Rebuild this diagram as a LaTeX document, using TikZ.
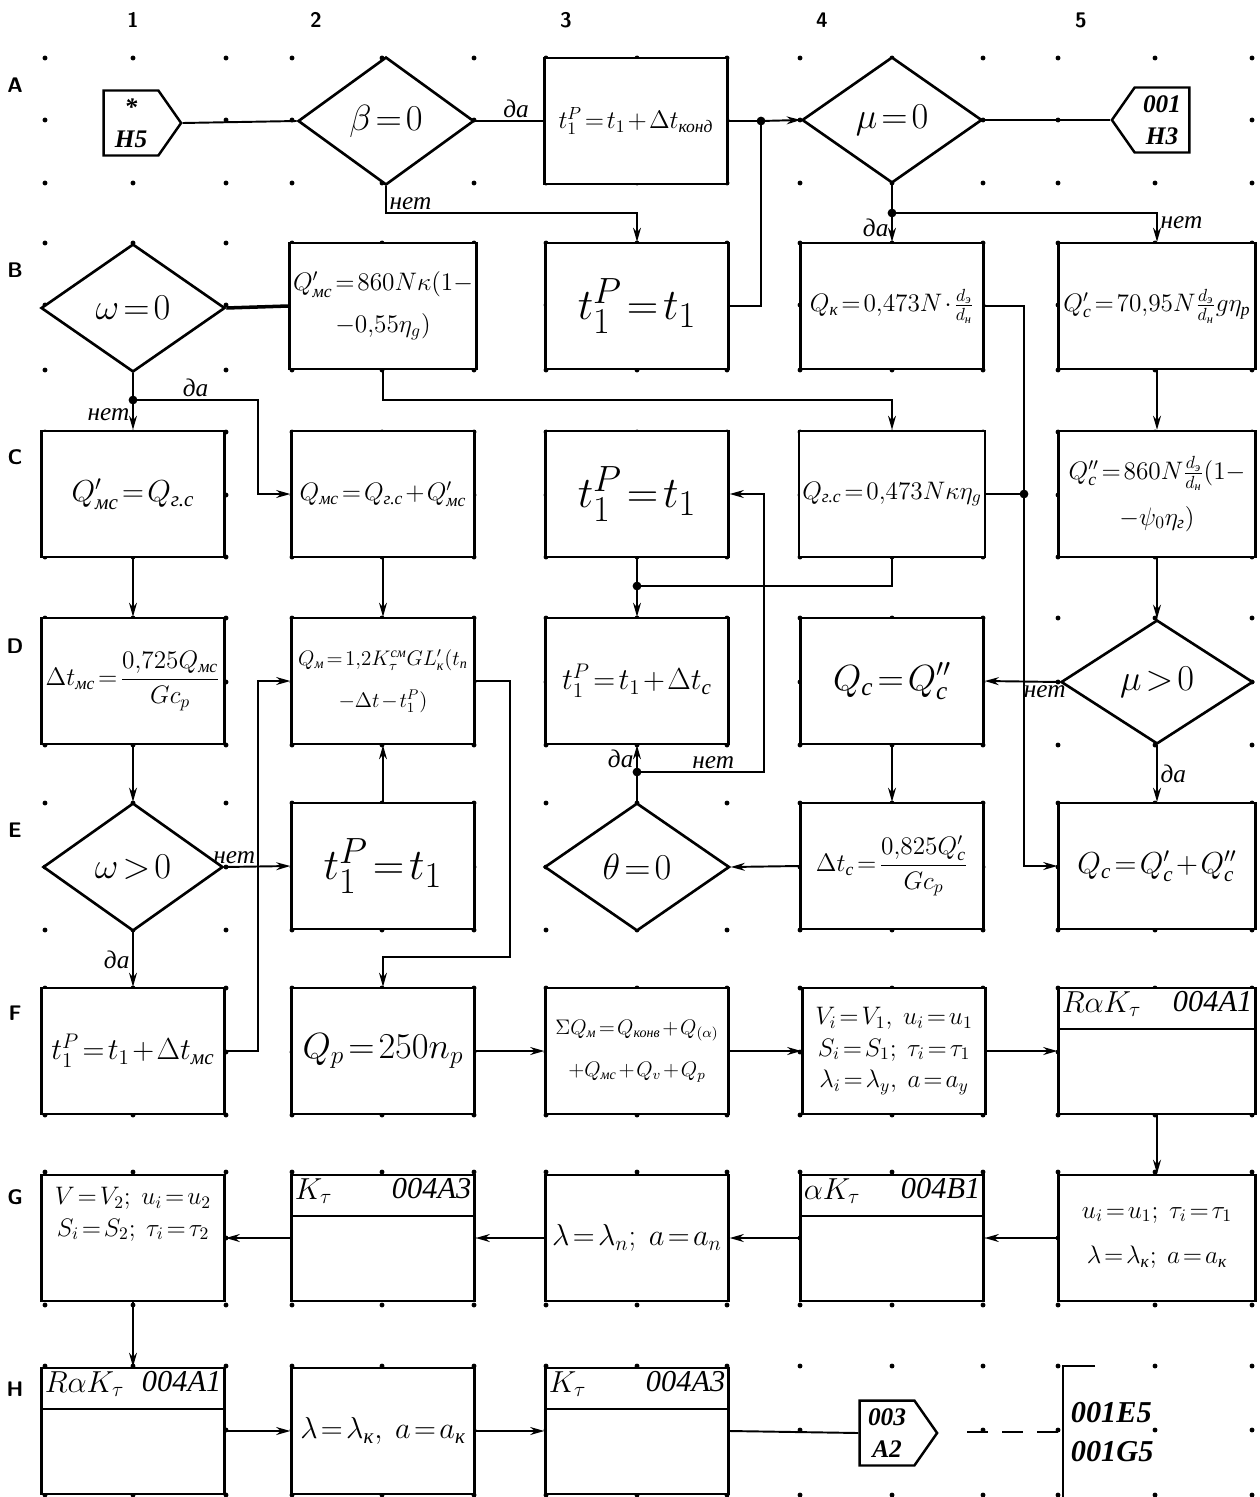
\documentclass[tikz,border=0pt]{standalone}
\usepackage{fontspec}
\setmainfont{Liberation Serif}
\usepackage{amsmath}
\usetikzlibrary{shapes.geometric,shapes.symbols,arrows.meta}
\newcommand{\ru}[1]{\text{\itshape #1}}
\thickmuskip=2mu plus 1mu
\medmuskip=1.5mu plus 1mu

\begin{document}
\begin{tikzpicture}[x=0.02cm,y=-0.02cm,line width=1.1pt,
    >={Stealth[length=8pt,width=4.5pt]},
    blk/.style={draw,fill=white,line width=1.4pt,minimum width=3.66cm,minimum height=2.52cm,
        inner sep=2pt,align=center,font=\Large},
    blkw/.style={blk,minimum width=3.94cm},
    cond/.style={diamond,draw,fill=white,line width=1.5pt,shape aspect=1.4,inner sep=0pt,
        minimum width=3.6cm,minimum height=2.56cm,font=\huge},
    conn/.style={signal,draw,fill=white,line width=1.4pt,signal pointer angle=110,
        minimum width=1.55cm,minimum height=1.3cm,inner sep=0.5pt,align=center,
        font=\Large\bfseries\itshape},
    lbl/.style={font=\Large\itshape,inner sep=1.5pt},
    hdr/.style={font=\LARGE\itshape,inner sep=2pt},
    gridlbl/.style={font=\large\bfseries\sffamily},
    jdot/.style={circle,fill,inner sep=0pt,minimum size=5pt}]
    \useasboundingbox (0,0) rectangle (1260,1497);
    % sheet grid
    \foreach \x in {45,133,226,292,382,474,546,637,727,800,892,983,1058,1155,1252}
        \foreach \y in {58,120,183,243,305,370,432,495,557,618,682,745,803,867,930,988,1052,1115,1172,1238,1305,1366,1430,1495}
            \fill (\x,\y) circle (1.4pt);
    \foreach \t/\x in {1/133,2/316,3/566,4/822,5/1081}
        \node[gridlbl] (col\t) at (\x,20) {\t};
    \foreach \t/\y in {A/85,B/270,C/457,D/646,E/830,F/1013,G/1197,H/1389}
        \node[gridlbl] (row\t) at (15,\y) {\t};

    % row A
    \node[conn,signal to=east] (A1) at (131,123) {*\\H5};
    \node[cond,minimum width=3.52cm] (A2) at (386,121) {$\beta=0$};
    \node[blk] (A3) at (636,121) {$t_1^{P}=t_1+\Delta t_{\ru{конд}}$};
    \node[cond,minimum height=2.52cm] (A4) at (892,120) {$\mu=0$};
    \node[conn,signal to=west] (A5) at (1162,120) {001\\H3};
    % row B
    \node[cond,minimum width=3.68cm] (B1) at (133,308) {$\omega=0$};
    \node[blk] (B2) at (383,306) {$Q'_{\ru{мс}}=860N\kappa(1-$\\[6pt]$-0{,}55\eta_g)$};
    \node[blk,font=\Huge] (B3) at (637,306) {$t_1^{P}=t_1$};
    \node[blk] (B4) at (892,306) {$Q_{\ru{к}}=0{,}473N\cdot\frac{d_{\ru{э}}}{d_{\ru{н}}}$};
    \node[blkw] (B5) at (1157,306) {$Q'_{\ru{с}}=70{,}95N\frac{d_{\ru{э}}}{d_{\ru{н}}}g\eta_{\ru{р}}$};
    % row C
    \node[blk,font=\LARGE] (C1) at (133,494) {$Q'_{\ru{мс}}=Q_{\ru{г.с}}$};
    \node[blk] (C2) at (383,494) {$Q_{\ru{мс}}=Q_{\ru{г.с}}+Q'_{\ru{мс}}$};
    \node[blk,font=\Huge] (C3) at (637,494) {$t_1^{P}=t_1$};
    \node[blk] (C4) at (892,494) {$Q_{\ru{г.с}}=0{,}473N\kappa\eta_g$};
    \node[blkw] (C5) at (1157,494) {$Q''_{\ru{с}}=860N\frac{d_{\ru{э}}}{d_{\ru{н}}}(1-$\\[8pt]$-\psi_0\eta_{\ru{г}})$};
    % row D
    \node[blk] (D1) at (133,681) {$\Delta t_{\ru{мс}}=\dfrac{0{,}725Q_{\ru{мс}}}{Gc_p}$};
    \node[blk,font=\large] (D2) at (383,681) {$Q_{\ru{м}}=1{,}2K_\tau^{\ru{см}}GL'_{\ru{к}}(t_{\ru{п}}$\\[10pt]$-\Delta t-t_1^{P})$};
    \node[blk,font=\LARGE] (D3) at (637,681) {$t_1^{P}=t_1+\Delta t_{\ru{с}}$};
    \node[blk,font=\huge] (D4) at (892,681) {$Q_{\ru{с}}=Q''_{\ru{с}}$};
    \node[cond,minimum width=3.84cm,minimum height=2.48cm] (D5) at (1157,682) {$\mu>0$};
    % row E
    \node[cond] (E1) at (133,867) {$\omega>0$};
    \node[blk,font=\Huge] (E2) at (383,866) {$t_1^{P}=t_1$};
    \node[cond,minimum width=3.7cm] (E3) at (637,867) {$\theta=0$};
    \node[blk] (E4) at (892,866) {$\Delta t_{\ru{с}}=\dfrac{0{,}825Q'_{\ru{с}}}{Gc_p}$};
    \node[blkw,font=\LARGE] (E5) at (1157,866) {$Q_{\ru{с}}=Q'_{\ru{с}}+Q''_{\ru{с}}$};
    % row F
    \node[blk,font=\LARGE] (F1) at (133,1051) {$t_1^{P}=t_1+\Delta t_{\ru{мс}}$};
    \node[blk,font=\huge] (F2) at (383,1051) {$Q_p=250n_p$};
    \node[blk,font=\large] (F3) at (637,1051) {$\Sigma Q_{\ru{м}}=Q_{\ru{конв}}+Q_{(\alpha)}$\\[10pt]$+Q_{\ru{мс}}+Q_v+Q_p$};
    \node[blk] (F4) at (894,1051) {$V_i=V_1,\ u_i=u_1$\\$S_i=S_1;\ \tau_i=\tau_1$\\$\lambda_i=\lambda_y,\ a=a_y$};
    \node[blkw] (F5) at (1157,1051) {};
    % row G
    \node[blk] (G1) at (133,1238) {$V=V_2;\ u_i=u_2$\\$S_i=S_2;\ \tau_i=\tau_2$\\[12pt]};
    \node[blk] (G2) at (383,1238) {};
    \node[blk,font=\LARGE] (G3) at (637,1238) {$\lambda=\lambda_n;\ a=a_n$};
    \node[blk] (G4) at (892,1238) {};
    \node[blkw] (G5) at (1157,1238) {$u_i=u_1;\ \tau_i=\tau_1$\\[8pt]$\lambda=\lambda_{\ru{к}};\ a=a_{\ru{к}}$};
    % row H
    \node[blk] (H1) at (133,1431) {};
    \node[blk,font=\LARGE] (H2) at (383,1431) {$\lambda=\lambda_{\ru{к}},\ a=a_{\ru{к}}$};
    \node[blk] (H3) at (637,1431) {};
    \node[conn,signal to=east] (H4) at (887,1433) {003\\A2};
    \node[anchor=west,align=left,font=\LARGE\bfseries\itshape] (H5) at (1064,1432) {001E5\\001G5};
    % subroutine headers
    \foreach \b/\l/\r in {F5/{$R\alpha K_\tau$}/004A1,G2/{$K_\tau$}/004A3,G4/{$\alpha K_\tau$}/004B1,
                          H1/{$R\alpha K_\tau$}/004A1,H3/{$K_\tau$}/004A3} {
        \draw[line width=1.4pt] ([yshift=-0.84cm]\b.north west) -- ([yshift=-0.84cm]\b.north east);
        \node[hdr,anchor=north west] (\b-l) at (\b.north west) {\l};
        \node[hdr,anchor=north east] (\b-r) at (\b.north east) {\r};
    }

    % bends and junctions
    \coordinate (jA) at (761,121);
    \coordinate (bA) at (761,306);
    \coordinate (nA) at (386,213);
    \coordinate (jB) at (892,213);
    \coordinate (bB) at (1157,213);
    \coordinate (jC) at (133,400);
    \coordinate (bC1) at (258,400);
    \coordinate (bC2) at (383,400);
    \coordinate (bC3) at (892,400);
    \coordinate (bE1) at (1024,306);
    \coordinate (jE) at (1024,494);
    \coordinate (bE2) at (1024,866);
    \coordinate (jD) at (637,586);
    \coordinate (bD) at (892,586);
    \coordinate (jF) at (637,772);
    \coordinate (bF1) at (764,772);
    \coordinate (bF2) at (764,494);
    \coordinate (bG1) at (258,1051);
    \coordinate (bG2) at (258,681);
    \coordinate (bH1) at (510,681);
    \coordinate (bH2) at (510,957);
    \coordinate (bH3) at (383,957);
    \coordinate (dS) at (967,1432);
    \coordinate (cM) at (1063,1432);
    \coordinate (cT) at (1095,1366);
    \coordinate (cC) at (1063,1366);
    \coordinate (cB) at (1063,1497);

    % connectors
    \draw (A1.east) -- (A2.west);
    \draw (A2.east) -- node[lbl,above,pos=0.6] (lA1) {да} (A3.west);
    \draw[->] (A2.south) -- (nA) node[lbl,above right] (lA2) {нет} -| (B3.north);
    \draw (A3.east) -- (jA);
    \draw (B3.east) -- (bA) -- (jA);
    \draw[->] (jA) -- (A4.west);
    \draw (A4.east) -- (A5.west);
    \draw (A4.south) -- (jB);
    \draw[->] (jB) -- node[lbl,left] (lB1) {да} (B4.north);
    \draw[->] (jB) -- (bB) node[lbl,below right] (lB2) {нет} -- (B5.north);
    \draw[line width=2pt] (B1.east) -- (B2.west);
    \draw (B1.south) -- (jC);
    \draw[->] (jC) -- node[lbl,left] (lC1) {нет} (C1.north);
    \draw[->] (jC) -- node[lbl,above] (lC2) {да} (bC1) |- (C2.west);
    \draw[->] (B2.south) -- (bC2) -- (bC3) -- (C4.north);
    \draw[->] (B4.east) -- (bE1) -- (bE2) -- (E5.west);
    \draw (C4.east) -- (jE);
    \draw[->] (B5.south) -- (C5.north);
    \draw[->] (C5.south) -- (D5.north);
    \draw[->] (D5.west) -- node[lbl,below,pos=0.2] (lD1) {нет} (D4.east);
    \draw[->] (D5.south) -- node[lbl,right] (lD2) {да} (E5.north);
    \draw[->] (C1.south) -- (D1.north);
    \draw[->] (C2.south) -- (D2.north);
    \draw (C3.south) -- (jD);
    \draw (C4.south) -- (bD) -- (jD);
    \draw[->] (jD) -- (D3.north);
    \draw (E3.north) -- (jF);
    \draw[->] (jF) -- node[lbl,left] (lF1) {да} (D3.south);
    \draw[->] (jF) -- node[lbl,above,pos=0.6] (lF2) {нет} (bF1) -- (bF2) -- (C3.east);
    \draw[->] (D4.south) -- (E4.north);
    \draw[->] (E4.west) -- (E3.east);
    \draw[->] (D1.south) -- (E1.north);
    \draw[->] (E1.east) -- node[lbl,above,pos=0.15] (lE1) {нет} (E2.west);
    \draw[->] (E2.north) -- (D2.south);
    \draw[->] (E1.south) -- node[lbl,left] (lE2) {да} (F1.north);
    \draw[->] (F1.east) -- (bG1) -- (bG2) -- (D2.west);
    \draw[->] (D2.east) -- (bH1) -- (bH2) -- (bH3) -- (F2.north);
    \draw[->] (F2.east) -- (F3.west);
    \draw[->] (F3.east) -- (F4.west);
    \draw[->] (F4.east) -- (F5.west);
    \draw[->] (F5.south) -- (G5.north);
    \draw[->] (G5.west) -- (G4.east);
    \draw[->] (G4.west) -- (G3.east);
    \draw[->] (G3.west) -- (G2.east);
    \draw[->] (G2.west) -- (G1.east);
    \draw[->] (G1.south) -- (H1.north);
    \draw[->] (H1.east) -- (H2.west);
    \draw[->] (H2.east) -- (H3.west);
    \draw (H3.east) -- (H4.west);
    \draw[dashed,dash pattern=on 12pt off 8pt] (dS) -- (cM);
    \draw (cT) -- (cC) -- (cB);
    % junction points
    \foreach \j in {jA,jB,jC,jD,jE,jF}
        \node[jdot] (\j-d) at (\j) {};
\end{tikzpicture}
\end{document}
